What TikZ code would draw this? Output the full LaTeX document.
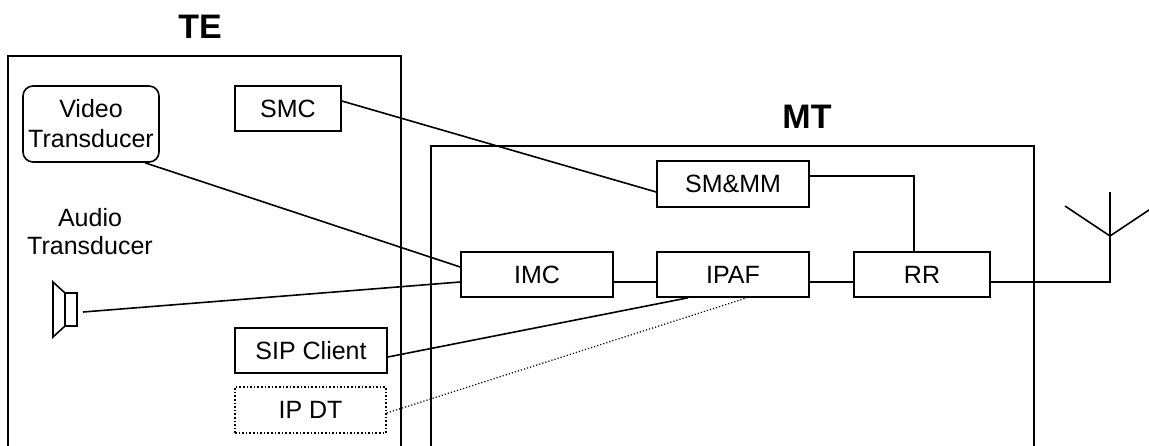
\documentclass[tikz,border=0pt]{standalone}
\usepackage{fontspec}
\setmainfont{Liberation Sans}
\usetikzlibrary{calc}

\begin{document}
\begin{tikzpicture}[x=0.5pt, y=-0.5pt, line width=0.8pt,
    block/.style={draw=black, rectangle, inner sep=0pt, minimum height=22.5pt, font=\fontsize{12.5}{15}\selectfont},
    label/.style={black, align=center, font=\fontsize{12.5}{14}\selectfont},
    title/.style={black, font=\fontsize{17}{20}\selectfont\bfseries}]
    \useasboundingbox (0,0) rectangle (1149,445);
    % Titles
    \node[title] (te) at (200,27) {TE};
    \node[title] (mt) at (807,117) {MT};
    % Frames
    \draw[black] (8,450) -- (8,56) -- (401,56) -- (401,450);
    \draw[black] (431,450) -- (431,146) -- (1034,146) -- (1034,450);
    % TE blocks
    \node[block, rounded corners=5pt, align=center, minimum width=68pt, minimum height=38pt] (vt) at (91,124) {Video\\Transducer};
    \node[block, minimum width=53pt] (smc) at (288,108.5) {SMC};
    \node[label] (audio) at (90,232) {Audio\\Transducer};
    \node[block, minimum width=76pt] (sip) at (311,350.5) {SIP Client};
    \node[block, densely dotted, minimum width=75.5pt, minimum height=23pt] (ipdt) at (310.5,410) {IP DT};
    % MT blocks
    \node[block, minimum width=76pt, minimum height=23pt] (smmm) at (733,184) {SM\&MM};
    \node[block, minimum width=76pt] (imc) at (537,274.5) {IMC};
    \node[block, minimum width=76pt] (ipaf) at (733,274.5) {IPAF};
    \node[block, minimum width=68pt] (rr) at (922,274.5) {RR};
    % Speaker
    \draw[black] (65,293) rectangle (77,326);
    \draw[black] (65,293) -- (53,282) -- (53,337) -- (65,326);
    \coordinate (spk) at (83,312);
    % Antenna
    \coordinate (ant) at (1110,236);
    \draw[black] (ant) -- (1110,192);
    \draw[black] (1065,206) -- (ant) -- (1155,206);
    % Links
    \draw[black] ([yshift=3.75pt]smc.east) -- ([yshift=-4pt]smmm.west);
    \draw[black] ([yshift=4pt]smmm.east) -| ([xshift=-4pt]rr.north);
    \draw[black] ([xshift=27pt]vt.south) -- ([yshift=3.75pt]imc.west);
    \draw[black] (spk) -- ([yshift=-3.75pt]imc.west);
    \draw[black] ([yshift=-3.75pt]imc.east) -- ([yshift=-3.75pt]ipaf.west);
    \draw[black] ([yshift=-3.75pt]ipaf.east) -- ([yshift=-3.75pt]rr.west);
    \draw[black] ([yshift=-3.75pt]rr.east) -| (ant);
    \draw[black] ([yshift=-3.25pt]sip.east) -- ([xshift=-22.5pt]ipaf.south);
    \draw[black, densely dotted, line width=0.6pt] ([yshift=-1.5pt]ipdt.east) -- ([xshift=7pt]ipaf.south);
\end{tikzpicture}
\end{document}
